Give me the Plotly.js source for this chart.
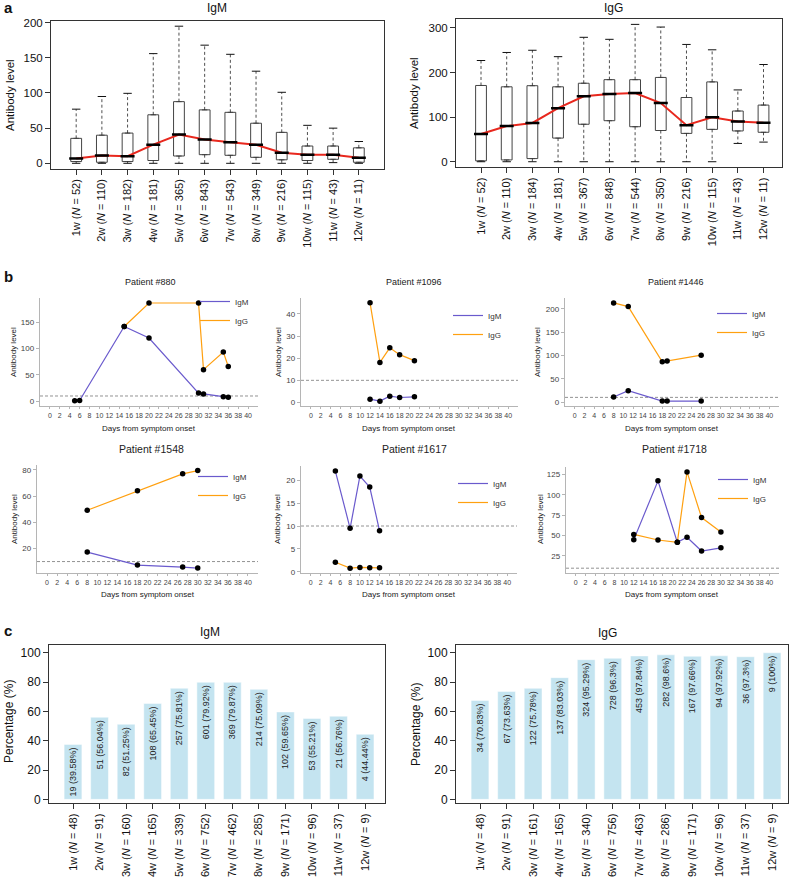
<!DOCTYPE html>
<html><head><meta charset="utf-8">
<script src="https://cdn.plot.ly/plotly-3.0.1.min.js"></script>
<style>html,body{margin:0;padding:0;background:#fff}#chart{width:792px;height:877px}</style>
</head><body><div id="chart"></div>
<script>
// ---------- Panel a: box plots ----------
const weeks = ['1w','2w','3w','4w','5w','6w','7w','8w','9w','10w','11w','12w'];
const igmNa = [52,110,182,181,365,843,543,349,216,115,43,11];
const iggNa = [52,110,184,181,367,848,544,350,216,115,43,11];
const igmLower = [0,0,0,0,0,0,0,0,0,0,1,0];
const igmQ1 = [2.5,1.5,2.5,4,10.4,12.3,11.4,8.5,5,4,5.7,1.5];
const igmMed = [7,11,10,26.5,40.8,34,30,26.5,15,12.3,12.3,8];
const igmQ3 = [35.5,40,43,69,87.7,76,72.5,57,44,24.6,24.6,22];
const igmUpper = [77,95,99.5,156,195,168,155,131,101,54,50,31];
const iggLower = [0,0,0,0,0,0,0,0,0,0,41,44];
const iggQ1 = [2,4,7,53,84,92,78.5,70,63.5,72.5,69,66];
const iggMed = [62,80,87,120,146.6,152,154,131.6,82,99.5,90,87.5];
const iggQ3 = [171,168,170.5,168,176,184,184,189,144,179,113.7,127];
const iggUpper = [227,245,250,235.6,279,274.5,308,302,263,251,161,218];

// ---------- Panel b: patients ----------
const threshold = 10;
const dayTicks = [0,2,4,6,8,10,12,14,16,18,20,22,24,26,28,30,32,34,36,38,40];
const p880IgmDays = [5,6,15,20,30,31,35,36];
const p880IgmVals = [1,1.5,142,120,15.5,14,8.5,7.5];
const p880IggDays = [15,20,30,31,35,36];
const p880IggVals = [142,186.5,186.5,60,93.5,66];
const p1096IgmDays = [12,14,16,18,21];
const p1096IgmVals = [1.5,0.6,2.85,2.25,2.55];
const p1096IggDays = [12,14,16,18,21];
const p1096IggVals = [45,18.1,24.7,21.6,18.9];
const p1446IgmDays = [8,11,18,19,26];
const p1446IgmVals = [10.7,24.3,2,2,2];
const p1446IggDays = [8,11,18,19,26];
const p1446IggVals = [213,205,86.4,88,100.7];
const p1548IgmDays = [8,18,27,30];
const p1548IgmVals = [17.2,7.3,5.8,5];
const p1548IggDays = [8,18,27,30];
const p1548IggVals = [49.2,64,77,79.5];
const p1617IgmDays = [5,8,10,12,14];
const p1617IgmVals = [22,9.5,20.9,18.5,8.95];
const p1617IggDays = [5,8,10,12,14];
const p1617IggVals = [2.1,0.8,0.95,0.87,0.87];
const p1718IgmDays = [12,17,21,23,26,30];
const p1718IgmVals = [45,117,41.7,47.8,31,35];
const p1718IggDays = [12,17,21,23,26,30];
const p1718IggVals = [51.4,44.5,41.7,128,72,54.3];
const patientTitles = ['Patient #880','Patient #1096','Patient #1446','Patient #1548','Patient #1617','Patient #1718'];

// ---------- Panel c: positive percentage ----------
const igmNc = [48,91,160,165,339,752,462,285,171,96,37,9];
const igmPos = [19,51,82,108,257,601,369,214,102,53,21,4];
const igmPctLabel = ['39.58%','56.04%','51.25%','65.45%','75.81%','79.92%','79.87%','75.09%','59.65%','55.21%','56.76%','44.44%'];
const igmBar = [37.5,56.04,51.25,65.45,75.81,79.92,79.87,75.09,59.65,55.21,56.76,44.44];
const iggNc = [48,91,161,165,340,756,463,286,171,96,37,9];
const iggPos = [34,67,122,137,324,728,453,282,167,94,36,9];
const iggPctLabel = ['70.83%','73.63%','75.78%','83.03%','95.29%','96.3%','97.84%','98.6%','97.66%','97.92%','97.3%','100%'];
const iggBar = [67.5,73.63,75.78,83.03,95.29,96.3,97.84,98.6,97.66,97.92,97.3,100];

// ---------- helpers ----------
const W = 792, H = 877;
const FONT = 'Liberation Sans, Arial, Helvetica, sans-serif';
const PURPLE = '#6a5acd', ORANGE = '#ffa010';
const dx = (a, b) => [a / W, b / W];
const dy = (top, bottom) => [1 - bottom / H, 1 - top / H];
const pos = weeks.map((w, i) => i + 1);
const tickText = ns => weeks.map((w, i) => w + ' (<i>N</i> = ' + ns[i] + ')');

function boxTraces(ax, q1, med, q3, lo, hi) {
  const xa = ax === 1 ? 'x' : 'x' + ax, ya = ax === 1 ? 'y' : 'y' + ax;
  const wx = [], wy = [];
  pos.forEach((p, i) => { wx.push(p, p, null, p, p, null); wy.push(q3[i], hi[i], null, q1[i], lo[i], null); });
  return [
    {type:'box', x:pos, q1:q1, median:med, q3:q3, lowerfence:q1, upperfence:q3, width:0.42,
     fillcolor:'#ffffff', line:{color:'#444', width:1}, boxpoints:false, showlegend:false, xaxis:xa, yaxis:ya, hoverinfo:'skip'},
    {type:'scatter', mode:'lines', x:wx, y:wy, line:{color:'#222', width:0.8, dash:'3px,2.5px'}, showlegend:false, xaxis:xa, yaxis:ya, hoverinfo:'skip'},
    {type:'scatter', mode:'lines', x:pos, y:med, line:{color:'#e8281e', width:2}, showlegend:false, xaxis:xa, yaxis:ya, hoverinfo:'skip'},
    {type:'scatter', mode:'markers', x:pos, y:med, marker:{symbol:'line-ew', size:10, line:{color:'#000', width:2.5}}, showlegend:false, xaxis:xa, yaxis:ya, hoverinfo:'skip'},
    {type:'scatter', mode:'markers', x:pos.concat(pos), y:hi.concat(lo), marker:{symbol:'line-ew', size:6, line:{color:'#111', width:1}}, showlegend:false, xaxis:xa, yaxis:ya, hoverinfo:'skip'}
  ];
}

function patientTraces(ax, d1, v1, d2, v2, leg) {
  const xa = 'x' + ax, ya = 'y' + ax;
  return [
    {type:'scatter', mode:'lines', x:d1, y:v1, name:'IgM', line:{color:PURPLE, width:1.2}, legend:leg, showlegend:true, xaxis:xa, yaxis:ya},
    {type:'scatter', mode:'lines', x:d2, y:v2, name:'IgG', line:{color:ORANGE, width:1.2}, legend:leg, showlegend:true, xaxis:xa, yaxis:ya},
    {type:'scatter', mode:'markers', x:d1, y:v1, marker:{color:'#000', size:5.5}, showlegend:false, xaxis:xa, yaxis:ya},
    {type:'scatter', mode:'markers', x:d2, y:v2, marker:{color:'#000', size:5.5}, showlegend:false, xaxis:xa, yaxis:ya}
  ];
}

function barTrace(ax, vals, counts, labels) {
  return {type:'bar', x:pos, y:vals, width:0.67, marker:{color:'#c4e4f0', line:{color:'#ffffff', width:0.5}},
    text: counts.map((c, i) => c + ' (' + labels[i] + ')'), textposition:'inside', insidetextanchor:'end',
    textangle:-90, constraintext:'none', textfont:{family:FONT, size:9, color:'#222'},
    showlegend:false, xaxis:'x' + ax, yaxis:'y' + ax, hoverinfo:'skip'};
}

const data = []
  .concat(boxTraces(1, igmQ1, igmMed, igmQ3, igmLower, igmUpper))
  .concat(boxTraces(2, iggQ1, iggMed, iggQ3, iggLower, iggUpper))
  .concat(patientTraces(3, p880IgmDays, p880IgmVals, p880IggDays, p880IggVals, 'legend'))
  .concat(patientTraces(4, p1096IgmDays, p1096IgmVals, p1096IggDays, p1096IggVals, 'legend2'))
  .concat(patientTraces(5, p1446IgmDays, p1446IgmVals, p1446IggDays, p1446IggVals, 'legend3'))
  .concat(patientTraces(6, p1548IgmDays, p1548IgmVals, p1548IggDays, p1548IggVals, 'legend4'))
  .concat(patientTraces(7, p1617IgmDays, p1617IgmVals, p1617IggDays, p1617IggVals, 'legend5'))
  .concat(patientTraces(8, p1718IgmDays, p1718IgmVals, p1718IggDays, p1718IggVals, 'legend6'))
  .concat([barTrace(9, igmBar, igmPos, igmPctLabel), barTrace(10, iggBar, iggPos, iggPctLabel)]);

// axes
function rAxis(domain, range, extra) {
  return Object.assign({domain:domain, range:range, showline:true, mirror:true, linecolor:'#333', linewidth:1,
    ticks:'outside', ticklen:5, tickcolor:'#333', tickwidth:1, showgrid:false, zeroline:false,
    tickfont:{family:FONT, size:11.5, color:'#111'}, fixedrange:true}, extra || {});
}
function gxAxis(domain, anchor) {
  return {domain:domain, range:[-2,42], anchor:anchor, showline:true, linecolor:'#b5b5b5', linewidth:1.3,
    ticks:'outside', ticklen:2, tickcolor:'#b5b5b5', tickwidth:1, tickvals:dayTicks, tickangle:0,
    showgrid:false, zeroline:false, tickfont:{family:FONT, size:7, color:'#444'}, fixedrange:true};
}
function gyAxis(domain, range, dtick, anchor) {
  return {domain:domain, range:range, anchor:anchor, showline:true, linecolor:'#b5b5b5', linewidth:1.3,
    ticks:'outside', ticklen:3, tickcolor:'#b5b5b5', tickwidth:1, tick0:0, dtick:dtick,
    showgrid:false, zeroline:false, tickfont:{family:FONT, size:8, color:'#444'}, fixedrange:true};
}

const layout = {
  width:W, height:H, margin:{l:0, r:0, t:0, b:0}, paper_bgcolor:'#fff', plot_bgcolor:'rgba(0,0,0,0)',
  hovermode:false, font:{family:FONT, color:'#111'},
  xaxis: rAxis(dx(51,384), [0.02,12.98], {anchor:'y', tickvals:pos, ticktext:tickText(igmNa), tickangle:-90, tickfont:{family:FONT, size:11, color:'#111'}}),
  yaxis: rAxis(dy(20.7,168.8), [-7.8,202.8], {anchor:'x', tickvals:[0,50,100,150,200]}),
  xaxis2: rAxis(dx(456,782), [0.026,12.72], {anchor:'y2', tickvals:pos, ticktext:tickText(iggNa), tickangle:-90, tickfont:{family:FONT, size:11, color:'#111'}}),
  yaxis2: rAxis(dy(18.9,167.2), [-12.3,320.3], {anchor:'x2', tickvals:[0,100,200,300]}),
  xaxis3: gxAxis(dx(40,258), 'y3'),   yaxis3: gyAxis(dy(298,406), [-9,196], 50, 'x3'),
  xaxis4: gxAxis(dx(301,518), 'y4'),  yaxis4: gyAxis(dy(298,406), [-1.6,47.2], 10, 'x4'),
  xaxis5: gxAxis(dx(565,779), 'y5'),  yaxis5: gyAxis(dy(298,406), [-8.5,223.5], 50, 'x5'),
  xaxis6: gxAxis(dx(37,258), 'y6'),   yaxis6: gyAxis(dy(465,573), [1.25,83.75], 20, 'x6'),
  xaxis7: gxAxis(dx(301,517), 'y7'),  yaxis7: gyAxis(dy(466,573), [-0.26,23.1], 5, 'x7'),
  xaxis8: gxAxis(dx(566,779), 'y8'),  yaxis8: gyAxis(dy(467,573), [4.1,134], 25, 'x8'),
  xaxis9: rAxis(dx(49,385), [0.096,12.75], {anchor:'y9', tickvals:pos, ticktext:tickText(igmNc), tickangle:-90, tickfont:{family:FONT, size:11, color:'#111'}}),
  yaxis9: rAxis(dy(645,803.3), [-2.7,105.3], {anchor:'x9', tickvals:[0,20,40,60,80,100], tickfont:{family:FONT, size:12, color:'#111'}}),
  xaxis10: rAxis(dx(456,788), [0.096,12.6], {anchor:'y10', tickvals:pos, ticktext:tickText(iggNc), tickangle:-90, tickfont:{family:FONT, size:11, color:'#111'}}),
  yaxis10: rAxis(dy(645,803.3), [-2.7,105.3], {anchor:'x10', tickvals:[0,20,40,60,80,100], tickfont:{family:FONT, size:12, color:'#111'}}),
  shapes: [3,4,5,6,7,8].map(k => ({type:'line', xref:'x' + k + ' domain', x0:0, x1:1, yref:'y' + k, y0:threshold, y1:threshold,
    line:{color:'#777', width:0.8, dash:'3px,2px'}, layer:'below'})),
  annotations: []
};

// legends for panel b
const legendSpots = [[235,287],[488,301],[752,299],[233,462],[493,469],[753,465]];
legendSpots.forEach((s, i) => {
  const key = i === 0 ? 'legend' : 'legend' + (i + 1);
  layout[key] = {x:(s[0] - 40) / W, y:1 - s[1] / H, xanchor:'left', yanchor:'top', bgcolor:'rgba(0,0,0,0)',
    borderwidth:0, font:{family:FONT, size:8, color:'#333'}, tracegroupgap:0};
});

function ann(text, x, y, size, opts) {
  layout.annotations.push(Object.assign({text:text, x:x / W, y:1 - y / H, xref:'paper', yref:'paper', showarrow:false,
    xanchor:'center', yanchor:'middle', font:{family:FONT, size:size, color:'#111'}}, opts || {}));
}
// panel letters
ann('<b>a</b>', 2, 7, 15, {xanchor:'left'});
ann('<b>b</b>', 2, 277, 15, {xanchor:'left'});
ann('<b>c</b>', 2, 630, 15, {xanchor:'left'});
// panel a
ann('IgM', 217, 8, 12);
ann('IgG', 613, 8, 12);
ann('Antibody level', 10, 95, 11.5, {textangle:-90});
ann('Antibody level', 414, 93, 11.5, {textangle:-90});
// panel c
ann('IgM', 210, 632, 12);
ann('IgG', 607, 633, 12);
ann('Percentage (%)', 9, 722, 12, {textangle:-90});
ann('Percentage (%)', 416, 725, 12, {textangle:-90});
// panel b
const titlePos = [[150,282,9],[414,282,9],[676,282,9],[151,449,10.5],[414,449,10.5],[674,449,10.5]];
titlePos.forEach((t, i) => ann(patientTitles[i], t[0], t[1], t[2], {font:{family:FONT, size:t[2], color:'#222'}}));
[[13,352],[278,352],[537,352],[14,519],[277,519],[540,519]].forEach(p => ann('Antibody level', p[0], p[1], 8, {textangle:-90, font:{family:FONT, size:8, color:'#222'}}));
[[149,428],[409,428],[672,428],[148,594],[409,594],[672,594]].forEach(p => ann('Days from symptom onset', p[0], p[1], 8, {font:{family:FONT, size:8, color:'#222'}}));

Plotly.newPlot('chart', data, layout, {staticPlot:true, displayModeBar:false});
</script></body></html>
